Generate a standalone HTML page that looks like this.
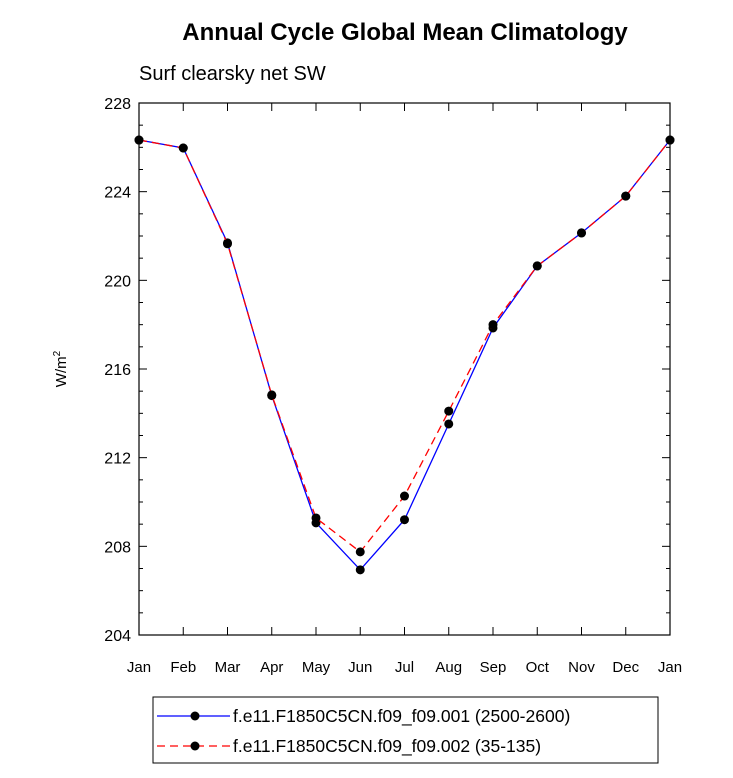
<!DOCTYPE html>
<html><head><meta charset="utf-8"><style>
body{margin:0;background:#fff;}
svg text{font-family:"Liberation Sans",sans-serif;}
</style></head><body>
<svg id="chart" width="733" height="773" xmlns="http://www.w3.org/2000/svg">
<text x="405" y="40" text-anchor="middle" font-size="24" font-weight="bold">Annual Cycle Global Mean Climatology</text>
<text x="139" y="80" font-size="20">Surf clearsky net SW</text>
<text transform="translate(66,369) rotate(-90)" text-anchor="middle" font-size="15">W/m<tspan dy="-6" font-size="10">2</tspan></text>
<g id="axes"></g>
<g id="series"></g>
<g>
<rect x="153" y="697" width="505" height="66" fill="#fff" stroke="#000" stroke-width="1"/>
<g>
<line x1="157" y1="716" x2="230" y2="716" stroke="#00f" stroke-width="1.2"/>
<circle cx="195" cy="716" r="4.5" fill="#000"/>
<text x="233" y="722" font-size="17.5">f.e11.F1850C5CN.f09_f09.001 (2500-2600)</text></g>
<g>
<line x1="157" y1="746" x2="230" y2="746" stroke="#f00" stroke-width="1.2" stroke-dasharray="8,5"/>
<circle cx="195" cy="746" r="4.5" fill="#000"/>
<text x="233" y="752" font-size="17.5">f.e11.F1850C5CN.f09_f09.002 (35-135)</text></g>
</g>
</svg>
<script>
const months=["Jan","Feb","Mar","Apr","May","Jun","Jul","Aug","Sep","Oct","Nov","Dec","Jan"];
const series001=[226.33,225.97,221.69,214.8,209.06,206.94,209.2,213.52,217.85,220.65,222.14,223.8,226.33];
const series002=[226.33,225.97,221.65,214.83,209.28,207.75,210.27,214.1,218.0,220.65,222.14,223.8,226.33];
const yTicks=[204,208,212,216,220,224,228];
const X0=139,X1=670,Y0=635,Y1=103,YMIN=204,YMAX=228;
const xs=i=>X0+(X1-X0)*i/(months.length-1);
const ys=v=>Y0-(Y0-Y1)*(v-YMIN)/(YMAX-YMIN);
const NS="http://www.w3.org/2000/svg";
function mk(t,a,p){const e=document.createElementNS(NS,t);for(const k in a)e.setAttribute(k,a[k]);p.appendChild(e);return e;}
const ax=document.getElementById('axes');
const frame=mk('rect',{x:X0,y:Y1,width:X1-X0,height:Y0-Y1,fill:'none',stroke:'#000','stroke-width':1.2},ax);


for(let v=YMIN;v<=YMAX;v++){const y=ys(v);const L=(v%4===0)?8:4;
mk('line',{x1:X0,y1:y,x2:X0+L,y2:y,stroke:'#000'},ax);mk('line',{x1:X1,y1:y,x2:X1-L,y2:y,stroke:'#000'},ax);}
yTicks.forEach(v=>{const t=mk('text',{x:X0-8,y:ys(v)+6,'text-anchor':'end','font-size':16},ax);t.textContent=v;

});
months.forEach((m,i)=>{const x=xs(i);
mk('line',{x1:x,y1:Y0,x2:x,y2:Y0-8,stroke:'#000'},ax);mk('line',{x1:x,y1:Y1,x2:x,y2:Y1+8,stroke:'#000'},ax);
const t=mk('text',{x:x,y:Y0+37,'text-anchor':'middle','font-size':15},ax);t.textContent=m;

});
const sg=document.getElementById('series');
function draw(data,color,dash,name){
const g=mk('g',{},sg);


const pts=data.map((v,i)=>xs(i)+','+ys(v)).join(' ');
const a={points:pts,fill:'none',stroke:color,'stroke-width':1.3};if(dash)a['stroke-dasharray']=dash;
mk('polyline',a,g);
data.forEach((v,i)=>{const c=mk('circle',{cx:xs(i),cy:ys(v),r:4.5,fill:'#000'},g);

});
}
draw(series001,'#00f',null,'series-001');
draw(series002,'#f00','8,5','series-002');
</script>
</body></html>
